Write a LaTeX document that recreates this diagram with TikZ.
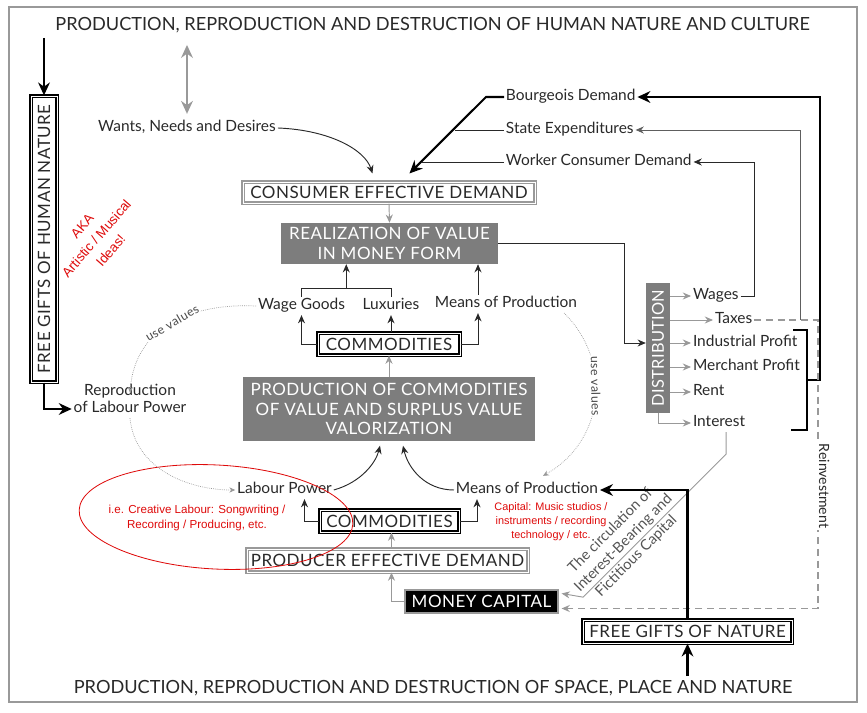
\documentclass[tikz,border=0pt]{standalone}
\usepackage{fontspec}
\setmainfont{Lato}
\newfontfamily\notefont{Liberation Sans}
\usepackage{graphicx}
\usetikzlibrary{arrows.meta,calc}
\definecolor{ink}{rgb}{0.16,0.16,0.16}
\definecolor{boxgray}{rgb}{0.49,0.49,0.49}
\definecolor{linegray}{rgb}{0.6,0.6,0.6}
\definecolor{notered}{rgb}{0.87,0.04,0.04}
\newcommand{\ftitle}{\fontsize{15.5}{18}\selectfont}
\newcommand{\fcaps}{\fontsize{14.5}{16.5}\selectfont\addfontfeature{LetterSpace=3}}
\newcommand{\flabel}{\fontsize{13.2}{15}\selectfont}
\newcommand{\fsmall}{\fontsize{10.5}{12}\selectfont\addfontfeature{LetterSpace=4}}
\newcommand{\fnote}{\fontsize{9.9}{12.8}\selectfont}
\tikzstyle{lbl}=[text=ink,font=\flabel,inner sep=1.5pt,text height=9.4pt,text depth=2.8pt]
\tikzstyle{capbox}=[text=ink,font=\fcaps,inner sep=0pt]
\tikzstyle{graybox}=[capbox,fill=boxgray,text=white,align=center]
\tikzstyle{greydbl}=[capbox,draw=linegray,double=white,double distance=0.8pt,line width=0.9pt]
\tikzstyle{blackdbl}=[capbox,draw=black,double=white,double distance=0.6pt,line width=1pt]
\tikzstyle{arr}=[draw=ink,line width=0.8pt,-{Stealth[length=7pt,width=6pt]}]
\tikzstyle{garr}=[draw=linegray,line width=0.8pt,-{Stealth[length=7pt,width=6pt]}]
\tikzstyle{thickarr}=[draw=black,line width=1.8pt,-{Stealth[length=11pt,width=10pt]}]
\tikzstyle{dotarr}=[draw=linegray,densely dotted,line width=0.6pt,-{Stealth[length=5pt,width=4.5pt]}]
\tikzstyle{usev}=[text=ink!85,font=\fsmall,fill=white,inner sep=0.5pt]
\tikzstyle{note}=[text=notered,font=\notefont\fnote,align=center,inner sep=0pt]

\begin{document}
\begin{tikzpicture}[x=0.03cm,y=-0.03cm]
\useasboundingbox (0,0) rectangle (867,713);
\draw[linegray,line width=1.2pt] (9,7) rectangle (857,702);

% the two outer spheres
\node[text=ink,font=\ftitle] (title) at (432.5,25) {PRODUCTION, REPRODUCTION AND DESTRUCTION OF HUMAN NATURE AND CULTURE};
\node[text=ink,font=\ftitle] (btitle) at (433,688) {PRODUCTION, REPRODUCTION AND DESTRUCTION OF SPACE, PLACE AND NATURE};
\node[blackdbl,minimum width=0.78cm,minimum height=8.58cm] (fghn) at (44,239) {\rotatebox{90}{FREE GIFTS OF HUMAN NATURE}};
\node[blackdbl,minimum width=6.27cm,minimum height=0.69cm] (fgn) at (687.5,631.5) {FREE GIFTS OF NATURE};
\coordinate (topin) at (44,38);

% consumption side
\node[lbl] (wants) at (187,128) {Wants, Needs and Desires};
\node[lbl,anchor=west] (bourg) at (504,97) {Bourgeois Demand};
\node[lbl,anchor=west] (state) at (504,130) {State Expenditures};
\node[lbl,anchor=west] (worker) at (504,162) {Worker Consumer Demand};
\node[greydbl,minimum width=8.76cm,minimum height=0.63cm] (ced) at (389,192.5) {CONSUMER EFFECTIVE DEMAND};
\node[graybox,minimum width=6.51cm,minimum height=1.23cm] (real) at (389.5,243.5) {REALIZATION OF VALUE\\IN MONEY FORM};
\node[lbl] (wage) at (301.5,306) {Wage Goods};
\node[lbl] (lux) at (391,306) {Luxuries};
\node[lbl] (mopu) at (506,304) {Means of Production};
\node[blackdbl,minimum width=4.26cm,minimum height=0.66cm] (comu) at (389,344) {COMMODITIES};

% production side
\node[graybox,minimum width=8.76cm,minimum height=1.89cm] (prod) at (389,409) {PRODUCTION OF COMMODITIES\\OF VALUE AND SURPLUS VALUE\\VALORIZATION};
\node[lbl,align=center] (repro) at (130,409) {Reproduction\\of Labour Power};
\node[lbl] (labour) at (284.5,490) {Labour Power};
\node[lbl] (mopl) at (527,490) {Means of Production};
\node[blackdbl,minimum width=4.17cm,minimum height=0.66cm] (coml) at (389.5,521) {COMMODITIES};
\node[greydbl,minimum width=8.43cm,minimum height=0.69cm] (ped) at (387.5,560.5) {PRODUCER EFFECTIVE DEMAND};
\node[capbox,fill=black,draw=linegray,line width=1pt,text=white,minimum width=4.59cm,minimum height=0.69cm] (money) at (481.5,601.5) {MONEY CAPITAL};

% distribution
\node[graybox,font=\fontsize{14}{16}\selectfont\addfontfeature{LetterSpace=2},minimum width=0.72cm,minimum height=3.9cm] (dist) at (658,348) {\rotatebox{90}{DISTRIBUTION}};
\node[lbl,anchor=west] (wages) at (691,296) {Wages};
\node[lbl,anchor=west] (taxes) at (713,320) {Taxes};
\node[lbl,anchor=west] (ind) at (691,343) {Industrial Profit};
\node[lbl,anchor=west] (merch) at (691,367) {Merchant Profit};
\node[lbl,anchor=west] (rent) at (691,392) {Rent};
\node[lbl,anchor=west] (interest) at (691,423) {Interest};
\node[text=ink!80,font=\fontsize{12.5}{15.5}\selectfont,align=center,rotate=45,inner sep=0pt] (circ) at (623.5,543.5) {The circulation of\\Interest-Bearing and\\Fictitious Capital};

% notes in red
\draw[notered,line width=0.7pt,rotate around={-3:(216,517)}] (216,517) ellipse [x radius=4.11cm,y radius=1.56cm];
\node[note] (notel) at (197,518) {i.e. Creative Labour: Songwriting /\\Recording / Producing, etc.};
\node[note,font=\notefont\fontsize{9.3}{12}\selectfont] (noter) at (551,522) {Capital: Music studios /\\instruments / recording\\technology / etc.};
\node[note,font=\notefont\fontsize{11.5}{16}\selectfont,rotate=49] (aka) at (96.5,238.5) {AKA\\Artistic / Musical\\Ideas!};

% connectors
\draw[thickarr] (topin) -- (fghn.north);
\draw[thickarr] (fghn.south) |- (repro.west);
\draw[linegray,line width=2.4pt,{Stealth[length=11pt,width=10pt]}-{Stealth[length=11pt,width=10pt]}] ($(title.south -| wants.north)+(0,8)$) -- ($(wants.north)+(0,-5)$);
\draw[arr] (wants.east) .. controls (330,130) and (365,150) .. ($(ced.north west)+(130,-8)$);
\draw[thickarr] (bourg.west) -- ++(-18,0) -- ($(ced.north west)+(167,-8)$);
\draw[ink,line width=0.8pt] (state.west) -- ++(-49,0);
\draw[ink,line width=0.8pt] (worker.west) -- ++(-82,0);
\draw[garr] (ced.south) -- (real.north);
\coordinate (wl) at ($(wage.north)!0.5!(lux.north)+(0,-8)$);
\draw[ink,line width=0.8pt] (wage.north) -- ++(0,-8) -| (lux.north);
\draw[arr] (wl) -- (wl |- real.south);
\coordinate (mu) at ($(mopu.north)+(-28,0)$);
\draw[arr] (mu) -- (mu |- real.south);
\draw[arr] (comu.west) -| (wage.south);
\draw[arr] (lux.south |- comu.north) -- (lux.south);
\draw[arr] (comu.east) -| ($(mopu.south)+(-28,0)$);
\draw[garr] (prod.north) -- (comu.south);
\draw[arr] (labour.east) .. controls (362,482) and (376,462) .. ($(prod.south)+(-9,5)$);
\draw[arr] (mopl.west) .. controls (425,490) and (408,468) .. ($(prod.south)+(14,5)$);
\draw[arr] (coml.west) -| ($(labour.south)+(20,0)$);
\draw[arr] (coml.east) -| ($(mopl.south)+(-50,0)$);
\draw[garr] ($(ped.north)+(4,0)$) -- ($(coml.south)+(2,0)$);
\draw[garr] (money.west) -| ($(ped.south)+(4,0)$);
\draw[dotarr] (wage.west) .. controls (195,303) and (135,325) .. ($(repro.north)+(0,-7)$) node[usev,pos=0.5,sloped] (usevl) {use values};
\draw[dotarr] (repro.south) .. controls (135,470) and (190,490) .. (labour.west);
\draw[dotarr] ($(mopu.east)+(-15,9)$) .. controls (612,360) and (606,440) .. ($(mopl.north)+(16,-5)$) node[usev,pos=0.43,sloped] (usevr) {use values};
\draw[arr] (real.east) -- ++(126,0) |- ($(dist.west)+(0,-5)$);
\draw[garr] (dist.east |- wages) -- (wages.west);
\draw[garr] (dist.east |- taxes) -- (taxes.west);
\draw[garr] (dist.east |- ind) -- (ind.west);
\draw[garr] (dist.east |- merch) -- (merch.west);
\draw[garr] (dist.east |- rent) -- (rent.west);
\draw[garr] (dist.south) |- (interest.west);
\draw[arr] (wages.east) -- ++(14,0) |- (worker.east);
\coordinate (tx) at ($(taxes.east)+(46,0)$);
\draw[garr,draw=ink!75] (tx) |- (state.east);
\draw[black,line width=1.8pt] (793,330) -- (807,330) -- (807,430) -- (791,430);
\coordinate (bk) at (807,380);
\draw[thickarr] (bk) -- ++(13,0) |- (bourg.east);
\draw[garr] ($(interest.south)+(7,0)$) -- ++(0,22) -- ++(-143,143) -- ($(money.east)+(3,-8)$);
\draw[garr,dash pattern=on 6pt off 4pt,line width=1.6pt] (taxes.east) -- ++(64,0) |- ($(money.east)+(3,7)$);
\node[lbl,font=\fontsize{12}{14}\selectfont,fill=white,rotate=-90] (reinv) at (823,486) {Reinvestment};
\draw[thickarr] (fgn.north) |- (mopl.east);
\draw[thickarr] (fgn.south |- btitle.north) -- (fgn.south);
\end{tikzpicture}
\end{document}
